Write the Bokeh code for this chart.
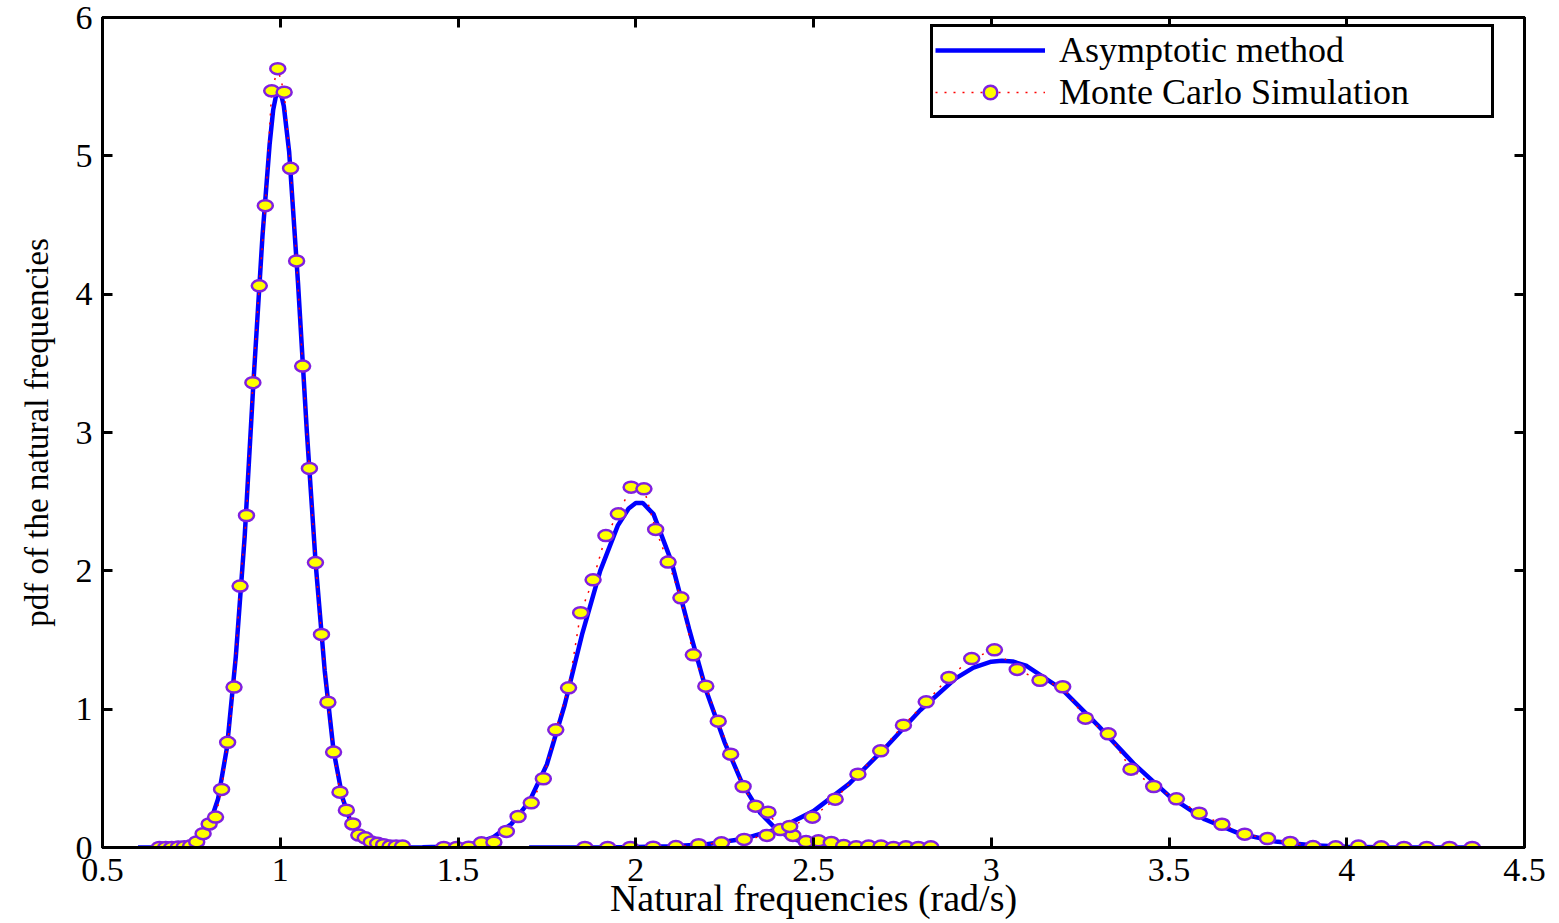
from bokeh.plotting import figure
from bokeh.models import Range1d, LinearAxis, Legend, LegendItem, FixedTicker
from bokeh.embed import file_html
from bokeh.resources import INLINE

# ---------------- data ----------------
x_ticks = [0.5, 1.0, 1.5, 2.0, 2.5, 3.0, 3.5, 4.0, 4.5]
x_tick_labels = ["0.5", "1", "1.5", "2", "2.5", "3", "3.5", "4", "4.5"]
y_ticks = [0, 1, 2, 3, 4, 5, 6]
y_tick_labels = ["0", "1", "2", "3", "4", "5", "6"]

# Asymptotic method (three modes)
asym1_x = [0.60, 0.65, 0.70, 0.725, 0.75, 0.775, 0.80, 0.825, 0.85, 0.875, 0.90, 0.925, 0.95, 0.97,
           0.98, 0.99, 1.00, 1.01, 1.025, 1.05, 1.075, 1.10, 1.125, 1.15, 1.175, 1.20, 1.225, 1.25,
           1.275, 1.30, 1.35]
asym1_y = [0.0, 0.0, 0.003, 0.008, 0.02, 0.06, 0.16, 0.35, 0.72, 1.38, 2.25, 3.38, 4.42, 5.08,
           5.33, 5.46, 5.47, 5.36, 5.03, 4.08, 3.00, 2.04, 1.28, 0.70, 0.36, 0.17, 0.07, 0.025,
           0.008, 0.003, 0.0]

asym2_x = [1.30, 1.40, 1.45, 1.50, 1.55, 1.60, 1.65, 1.70, 1.75, 1.80, 1.85, 1.90, 1.95, 1.98,
           2.00, 2.02, 2.05, 2.10, 2.15, 2.20, 2.25, 2.30, 2.35, 2.40, 2.45, 2.50, 2.55, 2.60,
           2.70, 2.80]
asym2_y = [0.0, 0.002, 0.005, 0.012, 0.03, 0.075, 0.17, 0.33, 0.60, 1.03, 1.55, 2.00, 2.33, 2.45,
           2.49, 2.49, 2.41, 2.07, 1.58, 1.12, 0.76, 0.46, 0.25, 0.12, 0.055, 0.022, 0.008, 0.003,
           0.0, 0.0]

asym3_x = [1.70, 1.80, 1.90, 2.00, 2.10, 2.20, 2.30, 2.40, 2.50, 2.60, 2.70, 2.80, 2.90, 2.95,
           3.00, 3.03, 3.06, 3.10, 3.20, 3.30, 3.40, 3.50, 3.60, 3.70, 3.80, 3.90, 4.00, 4.10,
           4.20, 4.37]
asym3_y = [0.0, 0.0, 0.001, 0.003, 0.009, 0.024, 0.061, 0.134, 0.263, 0.46, 0.716, 0.992, 1.223, 1.30,
           1.343, 1.35, 1.345, 1.312, 1.141, 0.883, 0.608, 0.373, 0.204, 0.099, 0.043, 0.016, 0.006, 0.002,
           0.0005, 0.0]

# Monte Carlo simulation (three modes)
mc1_x = [0.660, 0.678, 0.695, 0.713, 0.730, 0.748, 0.765, 0.783, 0.800, 0.818, 0.835, 0.852, 0.870,
         0.887, 0.905, 0.923, 0.941, 0.958, 0.976, 0.993, 1.011, 1.029, 1.046, 1.063, 1.082, 1.099,
         1.116, 1.134, 1.150, 1.168, 1.186, 1.204, 1.221, 1.239, 1.256, 1.274, 1.291, 1.309, 1.326, 1.344]
mc1_y = [0.0, 0.0, 0.0, 0.003, 0.006, 0.012, 0.04, 0.10, 0.17, 0.22, 0.42, 0.76, 1.16,
         1.89, 2.40, 3.36, 4.06, 4.64, 5.47, 5.63, 5.46, 4.91, 4.24, 3.48, 2.74, 2.06,
         1.54, 1.05, 0.69, 0.40, 0.27, 0.17, 0.09, 0.07, 0.04, 0.03, 0.02, 0.01, 0.01, 0.01]

mc2_x = [1.460, 1.496, 1.530, 1.566, 1.601, 1.636, 1.669, 1.706, 1.740, 1.775, 1.811, 1.845, 1.880,
         1.916, 1.951, 1.987, 2.023, 2.056, 2.091, 2.127, 2.162, 2.197, 2.232, 2.267, 2.302, 2.337,
         2.372, 2.407, 2.442, 2.479, 2.514, 2.550, 2.585, 2.620, 2.655, 2.690, 2.725, 2.760, 2.795, 2.830]
mc2_y = [0.0, 0.0, 0.002, 0.034, 0.038, 0.116, 0.224, 0.323, 0.497, 0.851, 1.154, 1.697, 1.935,
         2.255, 2.412, 2.605, 2.593, 2.299, 2.063, 1.805, 1.393, 1.166, 0.913, 0.675, 0.441, 0.299,
         0.255, 0.13, 0.087, 0.043, 0.048, 0.036, 0.014, 0.005, 0.01, 0.01, 0.0, 0.005, 0.0, 0.005]

mc3_x = [1.857, 1.921, 1.985, 2.049, 2.113, 2.177, 2.241, 2.305, 2.369, 2.433, 2.497, 2.561, 2.625,
         2.689, 2.753, 2.817, 2.881, 2.945, 3.009, 3.073, 3.137, 3.201, 3.265, 3.329, 3.393, 3.457,
         3.521, 3.585, 3.649, 3.713, 3.777, 3.841, 3.905, 3.969, 4.033, 4.097, 4.161, 4.225, 4.289, 4.353]
mc3_y = [0.0, 0.0, 0.0, 0.002, 0.007, 0.02, 0.034, 0.058, 0.087, 0.152, 0.219, 0.349, 0.53,
         0.699, 0.884, 1.053, 1.229, 1.366, 1.429, 1.287, 1.209, 1.162, 0.935, 0.822, 0.566, 0.441,
         0.352, 0.248, 0.168, 0.096, 0.065, 0.036, 0.007, 0.005, 0.01, 0.005, 0.0, 0.0, 0.0, 0.0]

# ---------------- styles ----------------
FONT = "Liberation Serif"
BLUE = "#0000FF"
RED = "#FF0000"
MK_FILL = "#FFFF00"
MK_LINE = "#8020E0"

p = figure(width=1551, height=922, x_range=Range1d(0.5, 4.5), y_range=Range1d(0, 6),
           output_backend="svg", toolbar_location=None,
           min_border_left=102, min_border_right=27, min_border_top=17, min_border_bottom=75)
p.background_fill_color = "white"
p.border_fill_color = "white"
p.outline_line_color = "black"
p.outline_line_width = 3
p.xgrid.visible = False
p.ygrid.visible = False

def style_axis(ax, ticks, labels, show_labels=True, size="34px"):
    ax.ticker = FixedTicker(ticks=ticks)
    if show_labels:
        ax.major_label_overrides = {t: l for t, l in zip(ticks, labels)}
        ax.major_label_text_font_size = size
    else:
        ax.major_label_overrides = {t: "" for t in ticks}
        ax.major_label_text_font_size = "0px"
        ax.major_label_standoff = 0
    ax.major_tick_in = 10
    ax.major_tick_out = 0
    ax.minor_tick_in = 0
    ax.minor_tick_out = 0
    ax.axis_line_color = "black"
    ax.axis_line_width = 3
    ax.major_tick_line_color = "black"
    ax.major_tick_line_width = 3
    ax.major_label_text_font = FONT
    ax.major_label_text_color = "black"

xa = p.xaxis[0]
style_axis(xa, x_ticks, x_tick_labels)
xa.major_label_standoff = 11
xa.axis_label = "Natural frequencies (rad/s)"
xa.axis_label_text_font = FONT
xa.axis_label_text_font_size = "38px"
xa.axis_label_text_font_style = "normal"
xa.axis_label_text_color = "black"
xa.axis_label_standoff = -7

ya = p.yaxis[0]
style_axis(ya, y_ticks, y_tick_labels)
ya.major_label_standoff = 10
ya.axis_label = "pdf of the natural frequencies"
ya.axis_label_text_font = FONT
ya.axis_label_text_font_size = "33px"
ya.axis_label_text_font_style = "normal"
ya.axis_label_text_color = "black"
ya.axis_label_standoff = 18

top_ax = LinearAxis()
style_axis(top_ax, x_ticks, x_tick_labels, show_labels=False)
p.add_layout(top_ax, "above")
right_ax = LinearAxis()
style_axis(right_ax, y_ticks, y_tick_labels, show_labels=False)
p.add_layout(right_ax, "right")

# ---------------- glyphs ----------------
a1 = p.line(asym1_x, asym1_y, line_color=BLUE, line_width=4.5)
p.line(asym2_x, asym2_y, line_color=BLUE, line_width=4.5)
p.line(asym3_x, asym3_y, line_color=BLUE, line_width=4.5)

m_lines = []
for mx, my in [(mc1_x, mc1_y), (mc2_x, mc2_y), (mc3_x, mc3_y)]:
    m_lines.append(p.line(mx, my, line_color=RED, line_width=1.5, line_dash="2 7"))
for mx, my in [(mc1_x, mc1_y), (mc2_x, mc2_y), (mc3_x, mc3_y)]:
    p.ellipse(x=mx, y=my, width=15, height=11, width_units="screen", height_units="screen",
              fill_color=MK_FILL, line_color=MK_LINE, line_width=2.5)

# marker used only as the legend's symbol
leg_mk = p.scatter(mc1_x, mc1_y, marker="circle", size=13, fill_color=MK_FILL,
                   line_color=MK_LINE, line_width=2.5, visible=False)

legend = Legend(items=[LegendItem(label="Asymptotic method", renderers=[a1]),
                       LegendItem(label="Monte Carlo Simulation", renderers=[m_lines[0], leg_mk])],
                location=(828, 729))
legend.label_text_font = FONT
legend.label_text_font_size = "36px"
legend.label_text_color = "black"
legend.glyph_width = 110
legend.glyph_height = 34
legend.label_standoff = 14
legend.label_width = 430
legend.padding = 2
legend.spacing = 0
legend.margin = 0
legend.border_line_color = "black"
legend.border_line_alpha = 1.0
legend.border_line_width = 3
legend.background_fill_color = "white"
legend.background_fill_alpha = 1.0
p.add_layout(legend, "center")

open("out.html", "w").write(file_html(p, INLINE))
